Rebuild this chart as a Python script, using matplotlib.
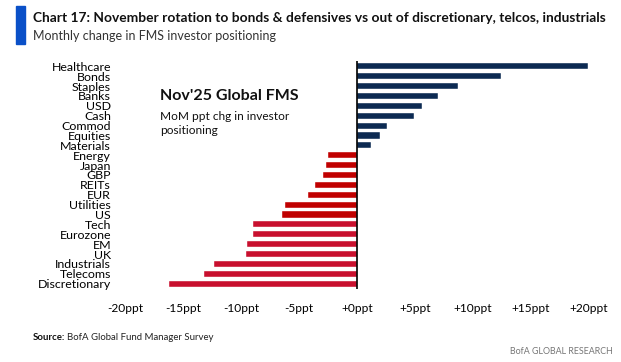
import matplotlib
matplotlib.use("Agg")
import matplotlib.pyplot as plt
from matplotlib.patches import Rectangle

categories = ["Healthcare", "Bonds", "Staples", "Banks", "USD", "Cash", "Commod",
              "Equities", "Materials", "Energy", "Japan", "GBP", "REITs", "EUR",
              "Utilities", "US", "Tech", "Eurozone", "EM", "UK", "Industrials",
              "Telecoms", "Discretionary"]
values = [19.9, 12.4, 8.7, 7.0, 5.6, 4.9, 2.6, 2.0, 1.2, -2.5, -2.7, -2.9, -3.6,
          -4.2, -6.2, -6.5, -9.0, -9.0, -9.5, -9.6, -12.3, -13.2, -16.2]
bar_colors = ["#0C2A52"] * 9 + ["#C00000"] * 7 + ["#C8102E"] * 7
xticks = [-20, -15, -10, -5, 0, 5, 10, 15, 20]
xticklabels = ["-20ppt", "-15ppt", "-10ppt", "-5ppt", "+0ppt", "+5ppt", "+10ppt", "+15ppt", "+20ppt"]

W, H = 621, 362
fig = plt.figure(figsize=(W / 100, H / 100), dpi=100)
fig.patch.set_facecolor("white")

font = "Lato"

ax = fig.add_axes([125 / W, 1 - 288.7 / H, (589 - 125) / W, (288.7 - 61.3) / H])
ypos = list(range(len(categories)))
ax.barh(ypos, values, height=0.62, color=bar_colors, edgecolor="#FFFFFF", linewidth=0.3)
ax.set_xlim(-20, 20)
ax.set_ylim(len(categories) - 0.5, -0.5)
ax.axvline(0, color="black", linewidth=1.2)
for s in ax.spines.values():
    s.set_visible(False)
ax.set_yticks(ypos)
ax.set_yticklabels(categories, fontsize=8.9, family=font)
ax.tick_params(axis="y", length=0, pad=10)
ax.set_xticks(xticks)
ax.set_xticklabels(xticklabels, fontsize=8.6, family=font)
ax.tick_params(axis="x", length=0, pad=10)

# Title block
fig.patches.append(Rectangle((16 / W, 1 - 44 / H), 9 / W, 38 / H, transform=fig.transFigure,
                             color="#0A50C8", zorder=5))
fig.text(33 / W, 1 - 18 / H, "Chart 17: November rotation to bonds & defensives vs out of discretionary, telcos, industrials",
         fontsize=9.9, fontweight="bold", family=font, va="center", ha="left", color="#111111")
fig.text(33 / W, 1 - 36 / H, "Monthly change in FMS investor positioning",
         fontsize=9.0, family=font, va="center", ha="left", color="#333333")

# Annotation
fig.text(160 / W, 1 - 96 / H, "Nov'25 Global FMS", fontsize=11.5, fontweight="bold",
         family=font, va="center", ha="left", color="#111111")
fig.text(160 / W, 1 - 116 / H, "MoM ppt chg in investor", fontsize=8.6,
         family=font, va="center", ha="left", color="#111111")
fig.text(160 / W, 1 - 131 / H, "positioning", fontsize=8.6,
         family=font, va="center", ha="left", color="#111111")

# Footer
src = fig.text(33 / W, 1 - 337 / H, "Source:", fontsize=6.9, fontweight="bold",
               family=font, va="center", ha="left", color="#111111")
fig.canvas.draw()
bb = src.get_window_extent(renderer=fig.canvas.get_renderer())
fig.text(bb.x1 / W + 2 / W, 1 - 337 / H, "BofA Global Fund Manager Survey", fontsize=6.9,
         family=font, va="center", ha="left", color="#222222")
fig.text(613 / W, 1 - 352 / H, "BofA GLOBAL RESEARCH", fontsize=6.4,
         family=font, va="center", ha="right", color="#777777")

fig.savefig("out.png", dpi=100, facecolor="white")
